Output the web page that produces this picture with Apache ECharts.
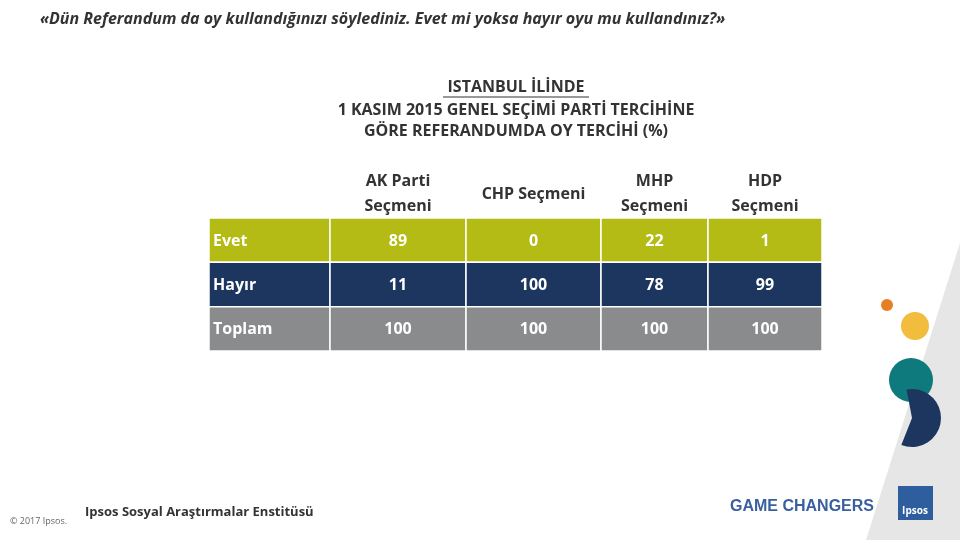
<!DOCTYPE html>
<html><head><meta charset="utf-8">
<script src="https://cdn.jsdelivr.net/npm/echarts@6/dist/echarts.min.js"></script>
<style>html,body{margin:0;padding:0;background:#fff}#c{width:960px;height:540px}</style>
</head><body><div id="c"></div>
<script>
const rowLabels = ['Evet', 'Hayır', 'Toplam'];
const columnHeaders = ['AK Parti\nSeçmeni', 'CHP Seçmeni', 'MHP\nSeçmeni', 'HDP\nSeçmeni'];
const evet = [89, 0, 22, 1];
const hayir = [11, 100, 78, 99];
const toplam = [100, 100, 100, 100];

// layout (pixel units along the x value axis)
const colEdges = [209, 330, 466, 601, 708, 822];
const rowColors = ['#b3bb14', '#1d365f', '#898b8d'];
const rowsVals = [evet, hayir, toplam];

const data = [];
rowsVals.forEach((vals, r) => {
  data.push([0, r, rowLabels[r]]);
  vals.forEach((v, c) => data.push([c + 1, r, String(v)]));
});

const chart = echarts.init(document.getElementById('c'));
const F = '"Open Sans", "DejaVu Sans", sans-serif';
chart.setOption({
  animation: false,
  grid: { left: 209, right: 138, top: 218, bottom: 189 },
  xAxis: { type: 'value', min: 209, max: 822, show: false },
  yAxis: { type: 'value', min: 0, max: 3, inverse: true, show: false },
  series: [{
    type: 'custom',
    data: data,
    renderItem: function (params, api) {
      const c = api.value(0), r = api.value(1), txt = api.value(2);
      const p0 = api.coord([colEdges[c], r]);
      const p1 = api.coord([colEdges[c + 1], r + 1]);
      const isLabel = c === 0;
      return {
        type: 'group',
        children: [{
          type: 'rect',
          shape: { x: p0[0], y: p0[1], width: p1[0] - p0[0], height: p1[1] - p0[1] },
          style: { fill: rowColors[r], stroke: '#fff', lineWidth: 1.5 }
        }, {
          type: 'text',
          x: isLabel ? p0[0] + 4 : (p0[0] + p1[0]) / 2,
          y: (p0[1] + p1[1]) / 2 + 1,
          style: { text: txt, fill: '#fff', font: 'bold 16px ' + F,
                   align: isLabel ? 'left' : 'center', verticalAlign: 'middle' }
        }]
      };
    }
  }],
  graphic: [
    { type: 'text', left: 40, top: 11, style: { text: '«Dün Referandum da oy kullandığınızı söylediniz. Evet mi yoksa hayır oyu mu kullandınız?»', font: 'italic bold 16px ' + F, fill: '#333' } },
    { type: 'text', x: 516, y: 87, style: { text: 'ISTANBUL İLİNDE', font: 'bold 16px ' + F, fill: '#333', align: 'center', verticalAlign: 'middle' } },
    { type: 'line', shape: { x1: 443, y1: 97, x2: 589, y2: 97 }, style: { stroke: '#333', lineWidth: 1.2 } },
    { type: 'text', x: 516, y: 110, style: { text: '1 KASIM 2015 GENEL SEÇİMİ PARTİ TERCİHİNE', font: 'bold 16px ' + F, fill: '#333', align: 'center', verticalAlign: 'middle' } },
    { type: 'text', x: 516, y: 131, style: { text: 'GÖRE REFERANDUMDA OY TERCİHİ (%)', font: 'bold 16px ' + F, fill: '#333', align: 'center', verticalAlign: 'middle' } },
    ...columnHeaders.map((h, i) => ({ type: 'text', x: (colEdges[i + 1] + colEdges[i + 2]) / 2, y: 194,
      style: { text: h, font: 'bold 16px ' + F, fill: '#333', align: 'center', verticalAlign: 'middle', lineHeight: 25 } })),
    { type: 'polygon', shape: { points: [[960, 243], [960, 540], [866, 540]] }, style: { fill: '#e6e6e6' } },
    { type: 'circle', shape: { cx: 887, cy: 305, r: 6 }, style: { fill: '#e67e22' } },
    { type: 'circle', shape: { cx: 915, cy: 326, r: 14 }, style: { fill: '#f2bd3c' } },
    { type: 'circle', shape: { cx: 911, cy: 380, r: 22 }, style: { fill: '#0f7a7d' } },
    { type: 'sector', shape: { cx: 912, cy: 418, r: 29, startAngle: -Math.PI * 0.56, endAngle: Math.PI * 0.62 }, style: { fill: '#1d365f' } },
    { type: 'text', left: 10, top: 517, style: { text: '© 2017 Ipsos.', font: '9px ' + F, fill: '#666' } },
    { type: 'text', left: 85, top: 506, style: { text: 'Ipsos Sosyal Araştırmalar Enstitüsü', font: 'bold 13px ' + F, fill: '#333' } },
    { type: 'text', left: 730, top: 499, style: { text: 'GAME CHANGERS', font: 'bold 16px "Liberation Sans", Arial, sans-serif', fill: '#3a5fa0' } },
    { type: 'rect', shape: { x: 898, y: 486, width: 35, height: 34 }, style: { fill: '#2e5e9e' } },
    { type: 'text', x: 915, y: 511, style: { text: 'Ipsos', font: 'bold 10px ' + F, fill: '#fff', align: 'center', verticalAlign: 'middle' } }
  ]
});
</script></body></html>
